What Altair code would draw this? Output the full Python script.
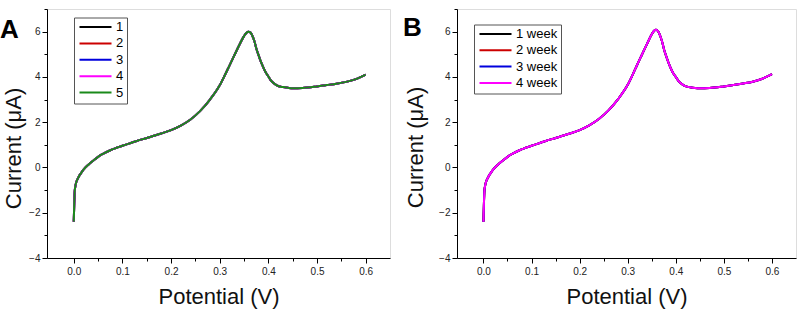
import altair as alt
import pandas as pd

# Potential (V) sample points
potential = [0.000, 0.001, 0.002, 0.004, 0.007, 0.010, 0.015, 0.020, 0.030, 0.040,
             0.050, 0.060, 0.075, 0.090, 0.100, 0.120, 0.140, 0.160, 0.180, 0.200,
             0.220, 0.240, 0.260, 0.280, 0.300, 0.310, 0.320, 0.330, 0.340, 0.350,
             0.355, 0.359, 0.363, 0.367, 0.371, 0.376, 0.380, 0.385, 0.390, 0.395,
             0.400, 0.405, 0.410, 0.415, 0.420, 0.430, 0.440, 0.450, 0.470, 0.500,
             0.520, 0.540, 0.560, 0.580, 0.600]

# Current (uA), panel A
current_a = [-2.40, -1.60, -1.05, -0.75, -0.55, -0.42, -0.25, -0.10, 0.12, 0.30,
             0.47, 0.60, 0.76, 0.88, 0.96, 1.10, 1.24, 1.37, 1.50, 1.65,
             1.85, 2.12, 2.50, 3.00, 3.63, 4.05, 4.50, 4.95, 5.40, 5.80,
             5.95, 6.00, 5.97, 5.82, 5.60, 5.20, 4.95, 4.65, 4.40, 4.18,
             4.02, 3.85, 3.74, 3.66, 3.60, 3.55, 3.52, 3.50, 3.51, 3.58,
             3.64, 3.70, 3.78, 3.90, 4.10]

# Current (uA), panel B
current_b = [-2.40, -1.60, -1.05, -0.75, -0.55, -0.42, -0.25, -0.10, 0.12, 0.30,
             0.47, 0.60, 0.76, 0.88, 0.96, 1.10, 1.24, 1.37, 1.50, 1.65,
             1.86, 2.14, 2.52, 3.02, 3.65, 4.08, 4.55, 5.00, 5.45, 5.88,
             6.04, 6.08, 6.02, 5.85, 5.60, 5.18, 4.92, 4.62, 4.36, 4.15,
             4.00, 3.84, 3.73, 3.65, 3.59, 3.54, 3.51, 3.50, 3.51, 3.58,
             3.64, 3.71, 3.79, 3.92, 4.12]

series_a = ["1", "2", "3", "4", "5"]
colors_a = ["#000000", "#cc0000", "#0000dd", "#ff00ff", "#1a8a1a"]
series_b = ["1 week", "2 week", "3 week", "4 week"]
colors_b = ["#000000", "#cc0000", "#0000dd", "#ff00ff"]

x_ticks = [round(i * 0.05, 2) for i in range(13)]
y_ticks = list(range(-4, 8))

FONT = "Liberation Sans"


def make_df(series, current):
    rows = []
    for k, s in enumerate(series):
        for v, c in zip(potential, current):
            rows.append({"Potential": v, "Current": c, "Series": s, "k": k})
    return pd.DataFrame(rows)


def panel(df, series, colors, letter, width, legend_x, legend_y, row_pad, ytitle_x, ytitle_y,
          letter_x, letter_y):
    x_axis = alt.Axis(
        values=x_ticks,
        labelExpr="round(datum.value*100) % 10 == 0 ? format(datum.value, '.1f') : ''",
        tickSize={"condition": {"test": "round(datum.value*100) % 10 == 0", "value": 5}, "value": 3},
        labelPadding=3,
        labelFontSize=10,
        labelFont=FONT,
        labelColor="#222",
        title="Potential (V)",
        titleFont=FONT,
        titleFontSize=22,
        titleFontWeight="normal",
        titleColor="#111",
        titleBaseline="alphabetic",
        titleY=45,
        grid=False,
        domainColor="#000",
        tickColor="#000",
    )
    y_axis = alt.Axis(
        values=y_ticks,
        labelExpr="datum.value % 2 == 0 ? format(datum.value, 'd') : ''",
        tickSize={"condition": {"test": "datum.value % 2 == 0", "value": 5}, "value": 3},
        labelPadding=2,
        labelFontSize=10,
        labelFont=FONT,
        labelColor="#222",
        title="Current (μA)",
        titleFont=FONT,
        titleFontSize=22,
        titleFontWeight="normal",
        titleColor="#111",
        titleBaseline="alphabetic",
        titleX=ytitle_x,
        titleY=ytitle_y,
        grid=False,
        domainColor="#000",
        tickColor="#000",
    )
    lines = alt.Chart(df).mark_line(strokeWidth=2, interpolate="monotone").encode(
        x=alt.X("Potential:Q", scale=alt.Scale(domain=[-0.055, 0.65], nice=False, zero=False), axis=x_axis),
        y=alt.Y("Current:Q", scale=alt.Scale(domain=[-4, 7], nice=False, zero=False), axis=y_axis),
        color=alt.Color(
            "Series:N",
            scale=alt.Scale(domain=series, range=colors),
            legend=alt.Legend(
                orient="none",
                legendX=legend_x,
                legendY=legend_y,
                title=None,
                symbolType="M-4,0H4",
                symbolSize=64,
                symbolStrokeWidth=2,
                symbolOffset=12,
                labelOffset=14,
                labelFontSize=13,
                labelFont=FONT,
                labelColor="#000",
                padding=3,
                rowPadding=row_pad,
                strokeColor="#555",
                fillColor="white",
            ),
        ),
        order=alt.Order("k:Q"),
        detail="Series:N",
    )
    tag = alt.Chart(pd.DataFrame({"t": [letter]})).mark_text(
        align="left", baseline="alphabetic", fontSize=26, fontWeight="bold", font=FONT, color="#000"
    ).encode(x=alt.value(letter_x), y=alt.value(letter_y), text="t:N")
    return alt.layer(lines, tag).properties(width=width, height=249)


pa = panel(make_df(series_a, current_a), series_a, colors_a, "A", 343, 27, 8.5, 2.4, -27, 139, -47, 28.7)
pb = panel(make_df(series_b, current_b), series_b, colors_b, "B", 339, 17, 15.5, 2.3, -35, 138, -54, 26.7)

chart = alt.hconcat(pa, pb, spacing=67, bounds="flush").resolve_scale(color="independent").properties(
    autosize=alt.AutoSizeParams(type="none"),
    padding={"left": 47, "top": 9, "right": 761, "bottom": 301},
).configure_view(stroke="#000", strokeWidth=1).configure(background="white")

chart.save("out.html", embed_options={"renderer": "svg", "actions": False})
